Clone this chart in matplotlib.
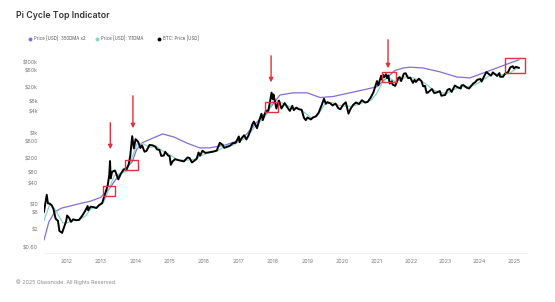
import matplotlib
matplotlib.use("Agg")
import matplotlib.pyplot as plt
import matplotlib.dates as mdates
import matplotlib.transforms as mtransforms
from matplotlib.patches import Rectangle
from matplotlib.lines import Line2D
import pandas as pd

plt.rcParams['font.family'] = ['Inter', 'DejaVu Sans']

# BTC price (USD)
price_dates = [
    "2011-05-10", "2011-06-08", "2011-06-20", "2011-07-10", "2011-08-01", "2011-08-20", "2011-09-10",
    "2011-10-05", "2011-10-20", "2011-11-18", "2011-12-05", "2011-12-31",
    "2012-01-10", "2012-02-01", "2012-02-20", "2012-03-15", "2012-04-15", "2012-05-15", "2012-06-15",
    "2012-07-15", "2012-08-15", "2012-08-20", "2012-09-15", "2012-10-15", "2012-11-15", "2012-12-15",
    "2013-01-15", "2013-02-15", "2013-03-15", "2013-04-01", "2013-04-09", "2013-04-16", "2013-05-01",
    "2013-06-01", "2013-07-06", "2013-08-01", "2013-09-01", "2013-10-01", "2013-10-25", "2013-11-10",
    "2013-11-30", "2013-12-18",
    "2014-01-05", "2014-02-01", "2014-02-25", "2014-03-15", "2014-04-10", "2014-05-01", "2014-06-01",
    "2014-07-01", "2014-08-01", "2014-08-20", "2014-09-15", "2014-10-05", "2014-11-01", "2014-11-15",
    "2014-12-15",
    "2015-01-01", "2015-01-14", "2015-02-01", "2015-03-01", "2015-04-01", "2015-05-01", "2015-06-01",
    "2015-07-10", "2015-08-01", "2015-08-25", "2015-09-15", "2015-10-15", "2015-11-04", "2015-11-20",
    "2015-12-15",
    "2016-01-15", "2016-02-15", "2016-03-15", "2016-04-15", "2016-05-15", "2016-06-16", "2016-07-15",
    "2016-08-02", "2016-09-01", "2016-10-01", "2016-11-01", "2016-12-01",
    "2017-01-04", "2017-01-12", "2017-02-01", "2017-03-01", "2017-03-25", "2017-04-15", "2017-05-10",
    "2017-05-25", "2017-06-12", "2017-07-16", "2017-08-01", "2017-09-01", "2017-09-15", "2017-10-01",
    "2017-10-20", "2017-11-12", "2017-12-01", "2017-12-17", "2017-12-30",
    "2018-01-06", "2018-02-06", "2018-03-05", "2018-04-01", "2018-05-05", "2018-06-01", "2018-06-29",
    "2018-07-25", "2018-08-10", "2018-09-05", "2018-10-01", "2018-11-01", "2018-11-25", "2018-12-15",
    "2019-01-01", "2019-02-07", "2019-03-01", "2019-04-01", "2019-05-01", "2019-06-01", "2019-06-26",
    "2019-07-15", "2019-08-01", "2019-09-01", "2019-09-25", "2019-10-26", "2019-11-25", "2019-12-17",
    "2020-01-15", "2020-02-12", "2020-03-12", "2020-04-01", "2020-05-01", "2020-06-01", "2020-07-01",
    "2020-08-01", "2020-09-05", "2020-10-01", "2020-11-01", "2020-12-01",
    "2021-01-08", "2021-01-22", "2021-02-21", "2021-02-28", "2021-03-13", "2021-03-25", "2021-04-13",
    "2021-04-25", "2021-05-08", "2021-05-23", "2021-06-15", "2021-06-22", "2021-07-20", "2021-08-22",
    "2021-09-06", "2021-09-21", "2021-10-20", "2021-11-08", "2021-12-04", "2021-12-27",
    "2022-01-24", "2022-02-10", "2022-02-24", "2022-03-29", "2022-04-25", "2022-05-12", "2022-06-01",
    "2022-06-18", "2022-07-01", "2022-08-14", "2022-09-06", "2022-10-01", "2022-11-05", "2022-11-21",
    "2022-12-31",
    "2023-01-25", "2023-02-16", "2023-03-10", "2023-04-13", "2023-05-10", "2023-06-15", "2023-06-23",
    "2023-07-13", "2023-08-17", "2023-09-11", "2023-10-24", "2023-11-15", "2023-12-08",
    "2024-01-11", "2024-01-22", "2024-02-28", "2024-03-14", "2024-04-17", "2024-05-01", "2024-05-21",
    "2024-07-05", "2024-07-29", "2024-08-05", "2024-09-06", "2024-09-27", "2024-10-29", "2024-11-22",
    "2024-12-17", "2024-12-30", "2025-01-20", "2025-02-20",
]
price_usd = [
    8.7, 26, 15, 14.5, 13, 10, 5.5,
    4.8, 2.5, 2.2, 3.0, 4.7,
    6.8, 5.8, 4.5, 5.3, 5.0, 5.1, 6.5,
    8.7, 12.5, 9.5, 12.0, 11.7, 11.0, 13.4,
    15, 27, 47, 95, 230, 75, 115,
    125, 70, 100, 135, 135, 190, 330,
    1150, 520,
    950, 800, 540, 630, 420, 445, 650,
    640, 590, 490, 470, 320, 330, 420,
    330,
    315, 180, 225, 260, 245, 235, 225,
    290, 280, 210, 230, 265, 400, 325,
    450,
    390, 400, 415, 430, 455, 750, 660,
    540, 575, 615, 730, 750,
    1130, 780, 1000, 1220, 930, 1180, 1750,
    2400, 2950, 1930, 2750, 4900, 3250, 4400,
    6000, 5900, 10900, 19300, 12600,
    17200, 6900, 11500, 6900, 9800, 7500, 5900,
    8200, 6200, 7300, 6600, 6350, 3800, 3250,
    3850, 3400, 3850, 4150, 5300, 8550, 12900,
    9400, 10400, 9600, 8400, 9500, 7000, 6600,
    8800, 10300, 4950, 6600, 8800, 10200, 9200,
    11800, 10100, 10600, 13800, 19700,
    40800, 30800, 57500, 45000, 61200, 52000, 63500,
    49000, 58800, 34700, 40200, 32500, 29800, 49300,
    52700, 40600, 65900, 67600, 49200, 50600,
    36300, 44000, 38300, 47400, 40400, 29000, 29800,
    19000, 19300, 24300, 18800, 19300, 21300, 15800,
    16500,
    23000, 24600, 20200, 30400, 27600, 25100, 30700,
    31400, 26600, 25100, 34500, 37800, 44200,
    46600, 39500, 62500, 73100, 61300, 58200, 71400,
    56700, 68300, 54000, 53900, 65800, 72700, 98900,
    106100, 92600, 102300, 96000,
]

# Price [USD] 350DMA x2
dma350x2_dates = [
    "2011-05-10", "2011-07-01", "2011-09-01", "2011-11-15", "2012-02-15", "2012-05-10", "2012-09-10",
    "2013-01-01", "2013-04-01", "2013-07-01", "2013-10-01", "2013-12-01", "2014-01-15", "2014-03-15",
    "2014-07-01", "2014-10-20", "2015-02-15", "2015-07-01", "2015-11-15", "2016-03-01", "2016-08-15",
    "2017-01-15", "2017-04-01", "2017-07-01", "2017-10-01", "2017-12-15", "2018-03-15", "2018-08-01",
    "2019-01-01", "2019-05-15", "2019-10-01", "2020-03-25", "2020-08-15", "2021-01-05", "2021-04-15",
    "2021-07-15", "2021-10-15", "2021-12-25", "2022-05-10", "2022-11-05", "2023-05-05", "2023-09-20",
    "2024-02-05", "2024-07-01", "2024-11-15", "2025-02-20",
]
dma350x2_usd = [
    1.4, 4.5, 8.6, 11, 12.6, 14.4, 17,
    22, 38, 85, 150, 220, 480, 750,
    1000, 1330, 1090, 740, 540, 540, 650,
    900, 1350, 2600, 4800, 8000, 16500, 19000,
    19000, 14000, 15000, 19000, 23000, 28000, 48000,
    80000, 95000, 100000, 95000, 74000, 53000, 50000,
    68000, 95000, 130000, 160000,
]

# Price [USD] 111DMA
dma111_dates = [
    "2011-05-10", "2011-07-15", "2011-09-15", "2011-11-25", "2012-01-15", "2012-03-15", "2012-05-15",
    "2012-07-20", "2012-09-20", "2012-12-01", "2013-02-01", "2013-04-01", "2013-05-25", "2013-08-01",
    "2013-10-01", "2013-12-01", "2014-01-20", "2014-03-20", "2014-06-01", "2014-08-15", "2014-11-01",
    "2015-01-15", "2015-04-01", "2015-07-01", "2015-09-15", "2015-12-01", "2016-03-01", "2016-05-15",
    "2016-08-15", "2016-11-01", "2017-01-20", "2017-04-01", "2017-06-15", "2017-09-01", "2017-11-01",
    "2018-01-01", "2018-03-01", "2018-05-01", "2018-08-01", "2018-10-15", "2018-12-15", "2019-02-15",
    "2019-04-15", "2019-07-01", "2019-09-15", "2019-12-01", "2020-02-01", "2020-04-15", "2020-06-15",
    "2020-09-01", "2020-11-01", "2021-01-01", "2021-03-01", "2021-05-01", "2021-07-15", "2021-09-15",
    "2021-11-15", "2022-02-01", "2022-04-15", "2022-06-15", "2022-09-01", "2022-11-15", "2023-01-15",
    "2023-04-01", "2023-06-15", "2023-09-01", "2023-11-15", "2024-01-15", "2024-04-01", "2024-06-15",
    "2024-09-01", "2024-11-15", "2025-01-15", "2025-02-20",
]
dma111_usd = [
    5, 15, 9, 4.2, 4.3, 5.0, 5.1,
    6.5, 10.5, 12, 16, 40, 90, 105,
    118, 300, 700, 720, 560, 590, 420,
    330, 240, 245, 255, 330, 400, 430,
    620, 640, 850, 1080, 2000, 3200, 5000,
    11000, 11500, 8900, 7200, 6600, 5000, 3700,
    4300, 8800, 10200, 8500, 8000, 7800, 8800,
    10500, 11500, 17500, 35000, 53000, 40000, 43000,
    55000, 49000, 42000, 33000, 22500, 19500, 18000,
    23500, 28000, 28500, 32000, 40000, 55000, 65000,
    61000, 68000, 88000, 95000,
]

y_ticks = [0.6, 2, 6, 10, 40, 80, 200, 600, 1000, 4000, 8000, 20000, 60000, 100000]
y_tick_labels = ["$0.60", "$2", "$6", "$10", "$40", "$80", "$200", "$600", "$1k", "$4k",
                 "$8k", "$20k", "$60k", "$100k"]

# signal boxes: (start, end, low, high) and arrows: (date, head, tail in axes fraction)
boxes = [
    ("2013-01-25", "2013-06-03", 24, 46),
    ("2013-09-15", "2014-02-01", 130, 247),
    ("2017-10-08", "2018-02-25", 5500, 10500),
    ("2021-03-03", "2021-07-30", 38400, 73300),
    ("2024-09-25", "2025-04-25", 68700, 181000),
]
arrows = [
    ("2013-04-12", 0.51, 0.672),
    ("2013-12-08", 0.616, 0.808),
    ("2017-12-12", 0.848, 1.01),
    ("2021-05-05", 0.919, 1.091),
]

purple = "#7f6fd8"
teal = "#86d6c0"
red = "#e3303c"

price = pd.Series(price_usd, index=pd.to_datetime(price_dates))
dma350 = pd.Series(dma350x2_usd, index=pd.to_datetime(dma350x2_dates))
dma111 = pd.Series(dma111_usd, index=pd.to_datetime(dma111_dates))

fig = plt.figure(figsize=(5.55, 3.02), dpi=100)
ax = fig.add_axes([0.0793, 0.1623, 0.8703, 0.6556])

ax.plot(dma350.index, dma350.values, color=purple, lw=0.9, zorder=2)
ax.plot(dma111.index, dma111.values, color=teal, lw=0.9, zorder=2)
ax.plot(price.index, price.values, color="black", lw=1.4, zorder=3)

ax.set_yscale("log")
ax.set_ylim(0.6, 220000)
ax.set_xlim(pd.Timestamp("2011-05-10"), pd.Timestamp("2025-05-18"))

ax.set_yticks(y_ticks)
ax.set_yticklabels(y_tick_labels)
ax.yaxis.set_minor_locator(matplotlib.ticker.NullLocator())
ax.xaxis.set_major_locator(mdates.YearLocator())
ax.xaxis.set_major_formatter(mdates.DateFormatter("%Y"))
ax.tick_params(axis="both", length=0, labelsize=3.8, labelcolor="#777777")
ax.tick_params(axis="y", pad=4.3)
ax.tick_params(axis="x", pad=4.5)
offset = mtransforms.ScaledTranslation(0, 5 / 100, fig.dpi_scale_trans)
for lab in ax.get_yticklabels():
    lab.set_transform(lab.get_transform() + offset)

for side in ["top", "right", "left"]:
    ax.spines[side].set_visible(False)
ax.spines["bottom"].set_color("#f0f0f0")
ax.spines["bottom"].set_linewidth(0.6)

for start, end, low, high in boxes:
    x0 = mdates.date2num(pd.Timestamp(start))
    x1 = mdates.date2num(pd.Timestamp(end))
    ax.add_patch(Rectangle((x0, low), x1 - x0, high - low, fill=False,
                           edgecolor=red, lw=1.0, zorder=5, clip_on=False))

for date, head, tail in arrows:
    x = mdates.date2num(pd.Timestamp(date))
    ax.annotate("", xy=(x, head), xytext=(x, tail),
                xycoords=("data", "axes fraction"), textcoords=("data", "axes fraction"),
                arrowprops=dict(arrowstyle="-|>", color=red, lw=1.0, mutation_scale=6),
                annotation_clip=False, zorder=6)

fig.text(0.029, 0.95, "Pi Cycle Top Indicator", fontsize=6.3, fontweight="semibold",
         color="#333333", va="center", ha="left")

legend_items = [(0.054, purple, "Price [USD]: 350DMA x2"),
                (0.175, teal, "Price [USD]: 111DMA"),
                (0.287, "black", "BTC: Price [USD]")]
for x, col, lab in legend_items:
    fig.add_artist(Line2D([x], [0.871], marker="o", markersize=1.8, color=col,
                          transform=fig.transFigure, lw=0))
    fig.text(x + 0.007, 0.871, lab, fontsize=3.2, color="#555555", va="center", ha="left")

fig.text(0.029, 0.066, "© 2025 Glassnode. All Rights Reserved.", fontsize=3.8,
         color="#888888", va="center", ha="left")

fig.savefig("out.png", dpi=100, facecolor="white")
